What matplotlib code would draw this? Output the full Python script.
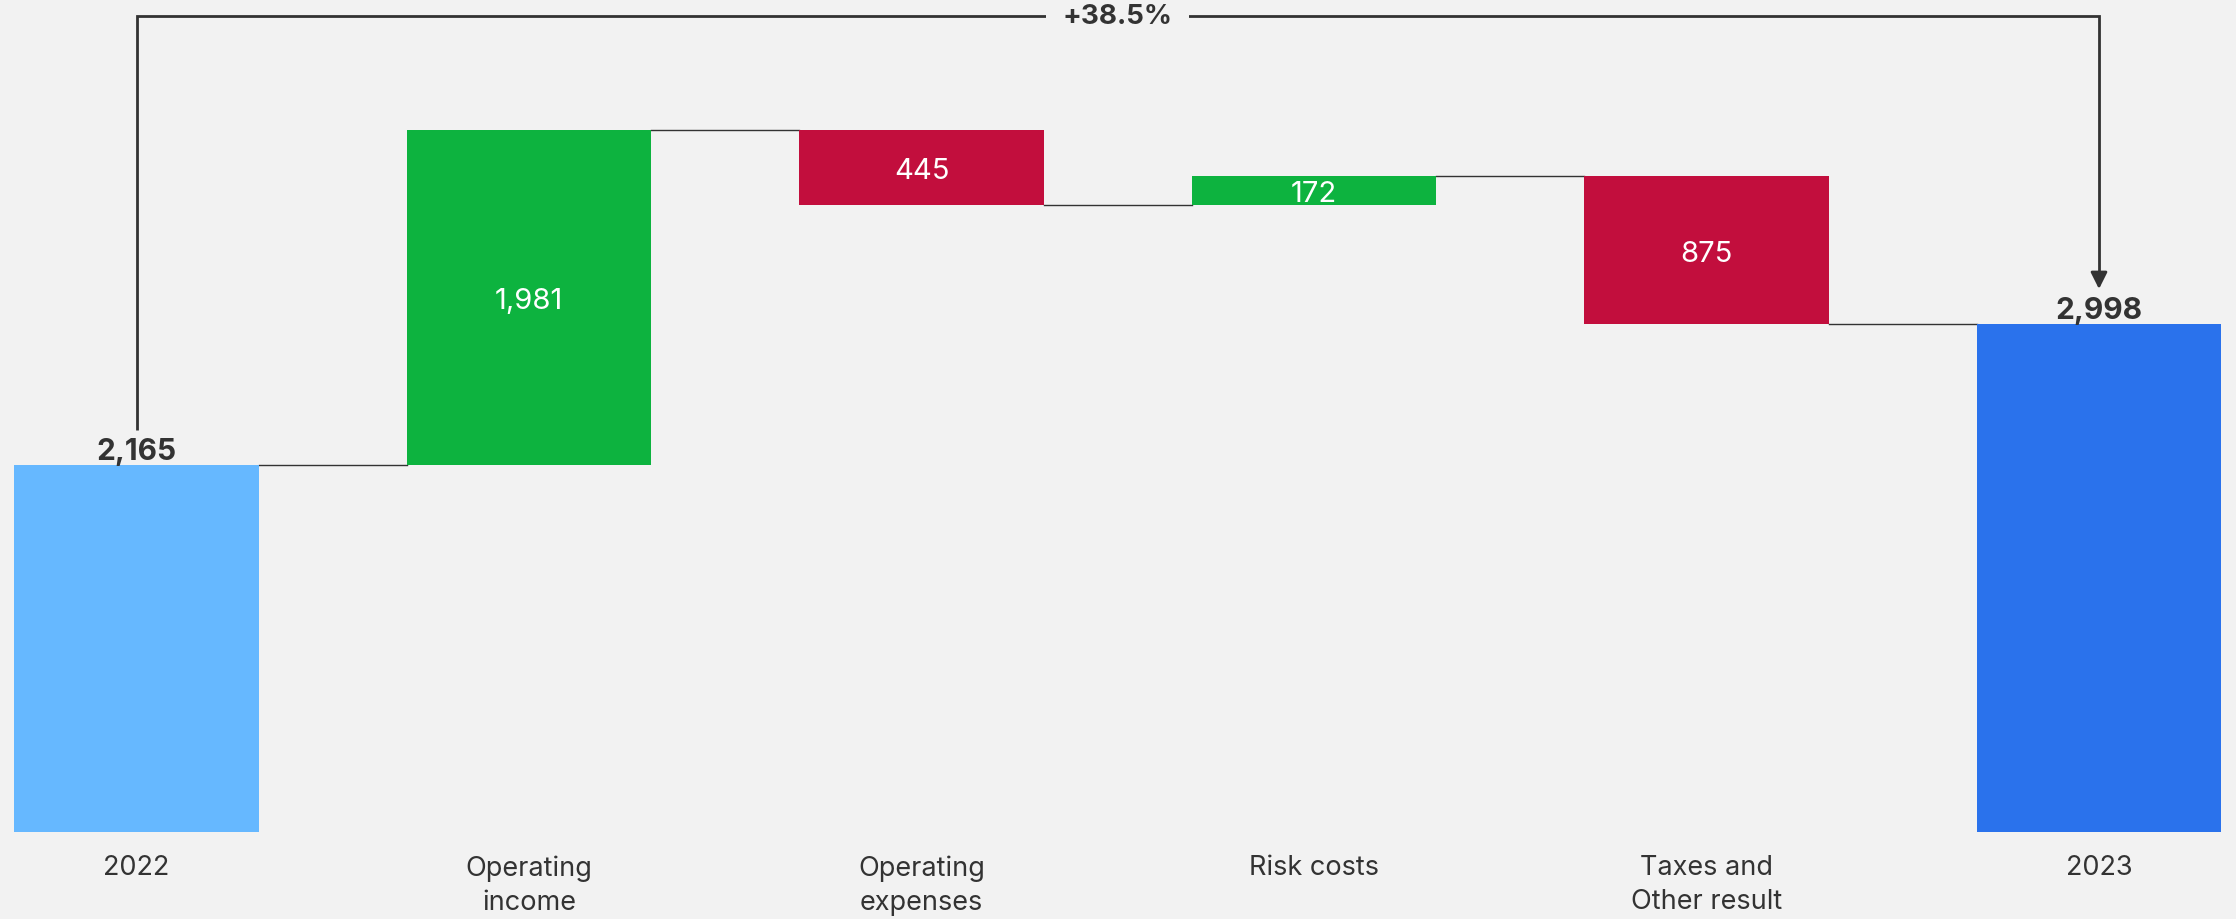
import matplotlib
matplotlib.use("Agg")
import matplotlib.pyplot as plt
import numpy as np

categories = ["2022", "Operating\nincome", "Operating\nexpenses", "Risk costs", "Taxes and\nOther result", "2023"]
values = [2165, 1981, -445, 172, -875, 2998]
kinds = ["total", "delta", "delta", "delta", "delta", "total"]
value_labels = ["2,165", "1,981", "445", "172", "875", "2,998"]
change_label = "+38.5%"

BG = "#F2F2F2"
C_START = "#66B8FF"
C_END = "#2A72EC"
C_POS = "#0DB33F"
C_NEG = "#C20E3D"
TXT = "#333333"

plt.rcParams['font.family'] = ['Inter', 'DejaVu Sans']

fig = plt.figure(figsize=(22.36, 9.2), dpi=100, facecolor=BG)
ax = fig.add_axes([0, 87/920, 1, 1 - 87/920])
ax.set_facecolor(BG)

W = 0.624
x = np.arange(len(categories))
bottoms, heights, colors, levels = [], [], [], []
running = 0
for i, (v, k) in enumerate(zip(values, kinds)):
    if k == "total":
        bottoms.append(0); heights.append(v)
        colors.append(C_START if i == 0 else C_END)
        running = v
    else:
        if v >= 0:
            bottoms.append(running); heights.append(v); colors.append(C_POS)
        else:
            bottoms.append(running + v); heights.append(-v); colors.append(C_NEG)
        running += v
    levels.append(running)

ax.bar(x, heights, bottom=bottoms, width=W, color=colors, linewidth=0, zorder=2)

# connectors
for i in range(len(x) - 1):
    ax.plot([x[i] + W/2, x[i+1] - W/2], [levels[i], levels[i]], color=TXT, lw=1.0, zorder=1)

# labels
for i in range(len(x)):
    if kinds[i] == "total":
        ax.text(x[i], bottoms[i] + heights[i] + 2, value_labels[i], ha="center", va="bottom",
                fontsize=21.5, fontweight="bold", color=TXT, zorder=3)
    else:
        ax.text(x[i], bottoms[i] + heights[i]/2, value_labels[i], ha="center", va="center_baseline",
                fontsize=21, color="white", zorder=3)

ax.set_xlim(-136.5/392.5, (2236 - 136.5)/392.5)
ymax = 833/0.1694
ax.set_ylim(0, ymax)

# bracket
top_y = (833 - 17) / 0.1694
left_bottom = (833 - 431) / 0.1694
arrow_tip = (833 - 290) / 0.1694
ax.plot([x[0], x[0], x[-1], x[-1]], [left_bottom, top_y, top_y, arrow_tip + 60],
        color=TXT, lw=2, solid_capstyle="butt", solid_joinstyle="miter", clip_on=False, zorder=4)
ax.annotate("", xy=(x[-1], arrow_tip), xytext=(x[-1], arrow_tip + 80),
            arrowprops=dict(arrowstyle="-|>", color=TXT, lw=2, mutation_scale=25,
                            shrinkA=0, shrinkB=0), zorder=4)
ax.text(2.5, top_y, change_label, ha="center", va="center", fontsize=20, fontweight="bold",
        color=TXT, zorder=5, bbox=dict(boxstyle="square,pad=0.6", fc=BG, ec="none"))

ax.set_xticks(x)
ax.set_xticklabels(categories, fontsize=19.5, color=TXT, linespacing=1.4)
ax.tick_params(axis="x", length=0, pad=16)
ax.set_yticks([])
for s in ax.spines.values():
    s.set_visible(False)

fig.savefig("out.png", dpi=100, facecolor=BG)
